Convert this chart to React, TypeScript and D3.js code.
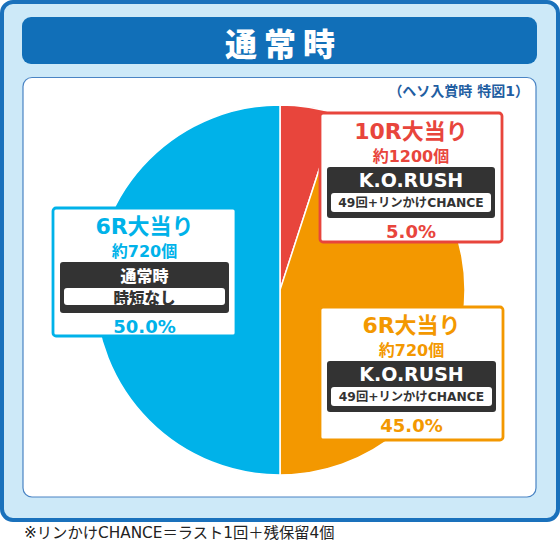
import * as d3 from "d3";

// slice data, clockwise from 12 o'clock
const sliceNames = ["10R大当り", "6R大当り", "6R大当り"];
const sliceValues = [5.0, 45.0, 50.0];
const payouts = ["約1200個", "約720個", "約720個"];
const modes = ["K.O.RUSH", "K.O.RUSH", "通常時"];
const modeDetails = ["49回+リンかけCHANCE", "49回+リンかけCHANCE", "時短なし"];
const sliceColors = ["#e8453c", "#f39800", "#00b2e9"];

const titleText = "通常時";
const subtitleText = "（ヘソ入賞時 特図1）";
const footnoteText = "※リンかけCHANCE＝ラスト1回＋残保留4個";

// label box layout (x, y, width, height)
const boxLayout = [
  { x: 320, y: 113, w: 182, h: 129 },
  { x: 320, y: 307, w: 183, h: 133 },
  { x: 53, y: 208, w: 183, h: 128 },
];

const W = 560;
const H = 543;
const FONT = "'DejaVu Sans', 'Noto Sans CJK JP', sans-serif";
const CJK = "'Noto Sans CJK JP', sans-serif";

export default function App() {
  const cx = 280;
  const cy = 290;
  const r = 185;

  const pie = d3
    .pie<number>()
    .sort(null)
    .value((d) => d);
  const arcs = pie(sliceValues);
  const arc = d3.arc<d3.PieArcDatum<number>>().innerRadius(0).outerRadius(r);
  const pct = d3.format(".1f");

  return (
    <svg
      width={W}
      height={H}
      style={{ position: "absolute", left: 0, top: 0, fontFamily: FONT }}
    >
      <rect x={0} y={0} width={W} height={H} fill="#ffffff" />
      {/* outer panel */}
      <rect
        x={2}
        y={2}
        width={W - 4}
        height={518}
        rx={11}
        fill="#cde9f8"
        stroke="#1a71bc"
        strokeWidth={4}
      />
      {/* title bar */}
      <rect x={22} y={17} width={515} height={47} rx={9} fill="#116fb8" />
      <text
        x={W / 2}
        dx={3.5}
        y={42}
        textAnchor="middle"
        dominantBaseline="central"
        fill="#ffffff"
        fontFamily={CJK}
        fontSize={32}
        fontWeight={900}
        letterSpacing={7}
      >
        {titleText}
      </text>
      {/* inner panel */}
      <rect
        x={23}
        y={77.5}
        width={513}
        height={419.5}
        rx={9}
        fill="#ffffff"
        stroke="#4a84c4"
        strokeWidth={1.2}
      />
      <text
        x={529}
        y={91}
        textAnchor="end"
        dominantBaseline="central"
        fill="#1f5ea2"
        fontSize={14}
        fontWeight={700}
      >
        {subtitleText}
      </text>

      {/* pie */}
      <g transform={`translate(${cx},${cy})`}>
        {arcs.map((a, i) => (
          <path
            key={i}
            d={arc(a) ?? ""}
            fill={sliceColors[i]}
            stroke="#ffffff"
            strokeWidth={1.5}
          />
        ))}
      </g>

      {/* label boxes */}
      {boxLayout.map((b, i) => {
        const c = sliceColors[i];
        const mx = b.x + b.w / 2;
        const barX = b.x + 7;
        const barW = b.w - 14;
        const pillX = b.x + 11;
        const pillW = b.w - 22;
        const isRush = modes[i] !== "通常時";
        return (
          <g key={i}>
            <rect
              x={b.x}
              y={b.y}
              width={b.w}
              height={b.h}
              rx={3}
              fill="#ffffff"
              stroke={c}
              strokeWidth={2.8}
            />
            <text
              x={mx}
              y={b.y + 18}
              textAnchor="middle"
              dominantBaseline="central"
              fill={c}
              fontSize={22}
              fontWeight={700}
            >
              {sliceNames[i]}
            </text>
            <text
              x={mx}
              y={b.y + 43}
              textAnchor="middle"
              dominantBaseline="central"
              fill={c}
              fontSize={16}
              fontWeight={700}
            >
              {payouts[i]}
            </text>
            <rect
              x={barX}
              y={b.y + 54}
              width={barW}
              height={51}
              rx={3}
              fill="#333333"
            />
            <text
              x={mx}
              y={b.y + 67}
              textAnchor="middle"
              dominantBaseline="central"
              fill="#ffffff"
              fontFamily={isRush ? FONT : CJK}
              fontSize={isRush ? 19 : 16}
              fontWeight={isRush ? 700 : 900}
            >
              {modes[i]}
            </text>
            <rect
              x={pillX}
              y={b.y + 80}
              width={pillW}
              height={isRush ? 19 : 17}
              rx={3}
              fill="#ffffff"
            />
            <text
              x={mx}
              y={b.y + (isRush ? 90 : 88.5)}
              textAnchor="middle"
              dominantBaseline="central"
              fill="#333333"
              fontFamily={isRush ? FONT : CJK}
              fontSize={isRush ? 12.3 : 15.5}
              fontWeight={isRush ? 700 : 900}
            >
              {modeDetails[i]}
            </text>
            <text
              x={mx}
              y={b.y + 118}
              textAnchor="middle"
              dominantBaseline="central"
              fill={c}
              fontSize={18}
              fontWeight={700}
            >
              {pct(sliceValues[i]) + "%"}
            </text>
          </g>
        );
      })}

      <text
        x={24}
        y={533}
        dominantBaseline="central"
        fill="#222222"
        fontSize={15.3}
        fontWeight={400}
      >
        {footnoteText}
      </text>
    </svg>
  );
}
